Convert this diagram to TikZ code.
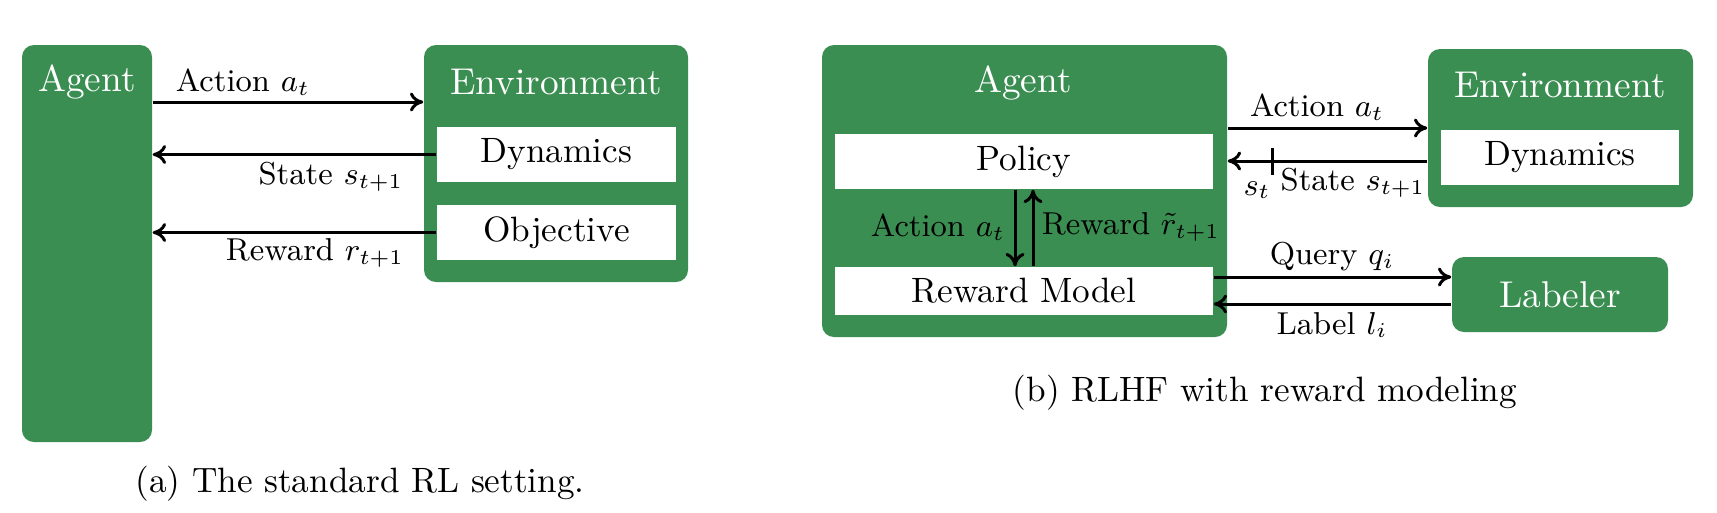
\documentclass[tikz,border=0pt]{standalone}
\usetikzlibrary{fit,arrows.meta}
\definecolor{rlgreen}{RGB}{58,142,81}
\begin{document}
\begin{tikzpicture}[x=0.2841pt,y=-0.2841pt,
  gbox/.style={fill=rlgreen, draw=none, rounded corners=3.4pt, inner sep=0pt},
  wbox/.style={fill=white, draw=none, inner sep=0pt},
  wtext/.style={font=\normalsize, inner sep=0pt},
  head/.style={text=white, font=\fontsize{10.6pt}{12pt}\selectfont, inner sep=0pt},
  lab/.style={font=\small, inner sep=0pt},
  arr/.style={-{To[length=3.8pt,width=5.4pt]}, line width=0.85pt},
  tickmark/.style={line width=0.85pt},
  captext/.style={font=\normalsize, inner sep=0pt}]
\useasboundingbox (0,0) rectangle (1717,512);
% ---------- (a) ----------
\node[gbox, fit={(22,45) (152,442)}] (agentA) {};
\node[gbox, fit={(424,45) (688,282)}] (envA) {};
\node[wbox, fit={(437,127) (676,182)}] (dynA) {};
\node[wbox, fit={(437,205) (676,260)}] (objA) {};
\node[wtext] (dynAt) at (dynA.center) {Dynamics};
\node[wtext] (objAt) at (objA.center) {Objective};
\node[head] (agentAt) at (87,82) {Agent};
\node[head] (envAt) at (556,82) {Environment};
\coordinate (yA1) at (0,102);
\draw[arr] (agentA.east |- yA1) -- (envA.west |- yA1);
\draw[arr] (dynA.west) -- (agentA.east |- dynA.west);
\draw[arr] (objA.west) -- (agentA.east |- objA.west);
\node[lab] (actAl) at (243,82) {Action $a_t$};
\node[lab] (stAl) at (331,177) {State $s_{t+1}$};
\node[lab] (rwAl) at (315,253) {Reward $r_{t+1}$};
\node[captext] (capA) at (360,484) {(a) The standard RL setting.};
% ---------- (b) ----------
\node[gbox, fit={(822,45) (1227,337)}] (agentB) {};
\node[wbox, fit={(835,134) (1213,189)}] (policy) {};
\node[wbox, fit={(835,267) (1213,315)}] (rm) {};
\node[wtext] (policyt) at (policy.center) {Policy};
\node[wtext] (rmt) at (rm.center) {Reward Model};
\node[gbox, fit={(1428,49) (1693,207)}] (envB) {};
\node[wbox, fit={(1441,130) (1679,185)}] (dynB) {};
\node[wtext] (dynBt) at (dynB.center) {Dynamics};
\node[gbox, fit={(1452,257) (1668,332)}] (labeler) {};
\node[head] (agentBt) at (1023,83) {Agent};
\node[head] (envBt) at (1560,85) {Environment};
\node[head] (labt) at (labeler.center) {Labeler};
\coordinate (yB1) at (0,128);
\coordinate (yB2) at (0,161);
\coordinate (yq) at (0,277);
\coordinate (yl) at (0,304);
\coordinate (xd) at (1015,0);
\coordinate (xu) at (1033,0);
\coordinate (tk) at (1272,161);
\draw[arr] (agentB.east |- yB1) -- (envB.west |- yB1);
\draw[arr] (envB.west |- yB2) -- (agentB.east |- yB2);
\draw[tickmark] (tk) ++(0,-13) -- ++(0,27);
\draw[arr] (policy.south -| xd) -- (rm.north -| xd);
\draw[arr] (rm.north -| xu) -- (policy.south -| xu);
\draw[arr] (rm.east |- yq) -- (labeler.west |- yq);
\draw[arr] (labeler.west |- yl) -- (rm.east |- yl);
\node[lab] (actBl) at (1317,107) {Action $a_t$};
\node[lab] (stBl) at (1353,183) {State $s_{t+1}$};
\node[lab] (stl) at (1257,190) {$s_t$};
\node[lab] (ql) at (1332,257) {Query $q_i$};
\node[lab] (ll) at (1332,325) {Label $l_i$};
\node[lab] (iact) at (938,227) {Action $a_t$};
\node[lab] (irw) at (1131,227) {Reward $\tilde{r}_{t+1}$};
\node[captext] (capB) at (1265,393) {(b) RLHF with reward modeling};
\end{tikzpicture}
\end{document}
